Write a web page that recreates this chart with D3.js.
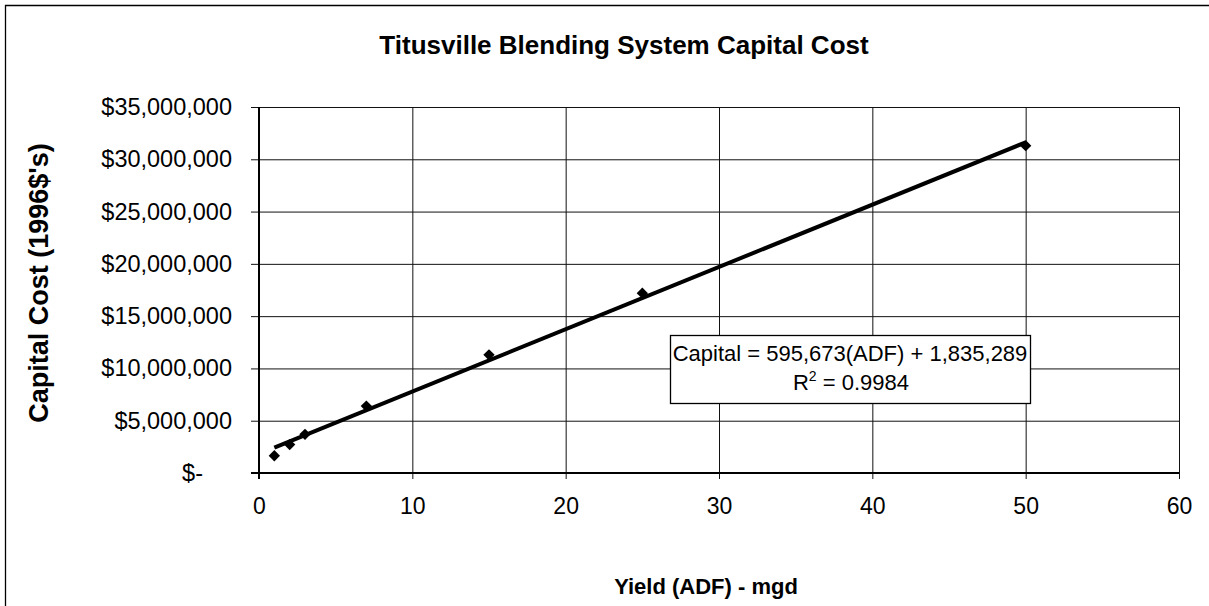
<!DOCTYPE html>
<html>
<head>
<meta charset="utf-8">
<script src="https://cdn.jsdelivr.net/npm/d3@7"></script>
<style>
  body { margin: 0; background: #fff; }
  svg { font-family: Arial, "Liberation Sans", sans-serif; }
</style>
</head>
<body>
<div id="container"></div>
<script>
const width = 1209,
  height = 606,
  margin = { top: 107, right: 30, bottom: 133, left: 259 }

// data
const yields = [1, 2, 3, 7, 15, 25, 50]
const costs = [1650000, 2720000, 3700000, 6400000, 11300000, 17200000, 31300000]
const xTicks = [0, 10, 20, 30, 40, 50, 60]
const yTicks = [0, 5e6, 10e6, 15e6, 20e6, 25e6, 30e6, 35e6]
// trend line from the equation in the box
const slope = 595673, intercept = 1835289, r2 = 0.9984
const trendX = [1, 50]

const data = yields.map((d, i) => ({ x: d, y: costs[i] }))

// SCALES
const xScale = d3.scaleLinear()
  .domain([0, 60])
  .range([margin.left, width - margin.right])

const yScale = d3.scaleLinear()
  .domain([0, 35e6])
  .range([height - margin.bottom, margin.top])

const svg = d3.select("#container")
  .append("svg")
  .attr("width", width)
  .attr("height", height)

svg.append("rect")
  .attr("width", width).attr("height", height)
  .attr("fill", "#fff")

// outer chart border (top + left show in the scan)
svg.append("path")
  .attr("d", `M5.5,${height} V5.5 H${width}`)
  .attr("fill", "none")
  .attr("stroke", "#000")
  .attr("stroke-width", 1.3)

const tickL = 8, tickB = 6
const plotW = xScale.range()[1] - xScale.range()[0]
const plotH = yScale.range()[0] - yScale.range()[1]

// Y AXIS + horizontal gridlines
const yAxis = d3.axisLeft(yScale)
  .tickValues(yTicks)
  .tickSizeInner(-(plotW + tickL))
  .tickSizeOuter(0)
  .tickPadding(19)
  .tickFormat(d => d === 0 ? "$-" : d3.format("$,")(d))

const gy = svg.append("g")
  .attr("transform", `translate(${margin.left - tickL},0)`)
  .call(yAxis)
gy.select(".domain").remove()
gy.selectAll("line").attr("stroke", "#111").attr("stroke-width", 1)
gy.selectAll("text")
  .style("font-size", "23.5px")
  .attr("fill", "#000")
  .filter(d => d === 0).attr("dx", -29)

// X AXIS + vertical gridlines
const xAxis = d3.axisBottom(xScale)
  .tickValues(xTicks)
  .tickSizeInner(-(plotH + tickB))
  .tickSizeOuter(0)
  .tickPadding(19)

const gx = svg.append("g")
  .attr("transform", `translate(0,${height - margin.bottom + tickB})`)
  .call(xAxis)
gx.select(".domain").remove()
gx.selectAll("line").attr("stroke", "#111").attr("stroke-width", 1)
gx.selectAll("text")
  .style("font-size", "23px")
  .attr("fill", "#000")

// axis lines, a bit heavier
svg.append("line")
  .attr("x1", xScale(0)).attr("x2", xScale(0))
  .attr("y1", yScale(35e6)).attr("y2", yScale(0) + tickB)
  .attr("stroke", "#000").attr("stroke-width", 2)
svg.append("line")
  .attr("x1", xScale(0) - tickL).attr("x2", xScale(60))
  .attr("y1", yScale(0)).attr("y2", yScale(0))
  .attr("stroke", "#000").attr("stroke-width", 2)

// TREND LINE
const lineGen = d3.line()
  .x(d => xScale(d))
  .y(d => yScale(slope * d + intercept))

svg.append("path")
  .datum(trendX)
  .attr("fill", "none")
  .attr("stroke", "#000")
  .attr("stroke-width", 4)
  .attr("d", lineGen)

// POINTS (diamonds)
svg.selectAll(".pt")
  .data(data)
  .join("path")
  .attr("class", "pt")
  .attr("transform", d => `translate(${xScale(d.x)},${yScale(d.y)}) rotate(45)`)
  .attr("d", d3.symbol(d3.symbolSquare, 64))
  .attr("fill", "#000")

// EQUATION BOX
const box = svg.append("g")
box.append("rect")
  .attr("x", 670.5).attr("y", 335.5)
  .attr("width", 360).attr("height", 68)
  .attr("fill", "#fff")
  .attr("stroke", "#000")
  .attr("stroke-width", 1.3)
box.append("text")
  .attr("x", 850).attr("y", 361)
  .attr("text-anchor", "middle")
  .style("font-size", "22px")
  .text(`Capital = ${d3.format(",")(slope)}(ADF) + ${d3.format(",")(intercept)}`)
const r2t = box.append("text")
  .attr("x", 851).attr("y", 390)
  .attr("text-anchor", "middle")
  .style("font-size", "22px")
r2t.append("tspan").text("R")
r2t.append("tspan").attr("dy", -9).style("font-size", "14px").text("2")
r2t.append("tspan").attr("dy", 9).text(` = ${r2}`)

// TITLES
svg.append("text")
  .attr("x", 624).attr("y", 54)
  .attr("text-anchor", "middle")
  .attr("font-weight", "bold")
  .style("font-size", "26px")
  .text("Titusville Blending System Capital Cost")

svg.append("text")
  .attr("x", 706).attr("y", 594)
  .attr("text-anchor", "middle")
  .attr("font-weight", "bold")
  .style("font-size", "22px")
  .text("Yield (ADF) - mgd")

svg.append("text")
  .attr("transform", "translate(48,283) rotate(-90)")
  .attr("text-anchor", "middle")
  .attr("font-weight", "bold")
  .style("font-size", "27px")
  .text("Capital Cost (1996$'s)")
</script>
</body>
</html>
